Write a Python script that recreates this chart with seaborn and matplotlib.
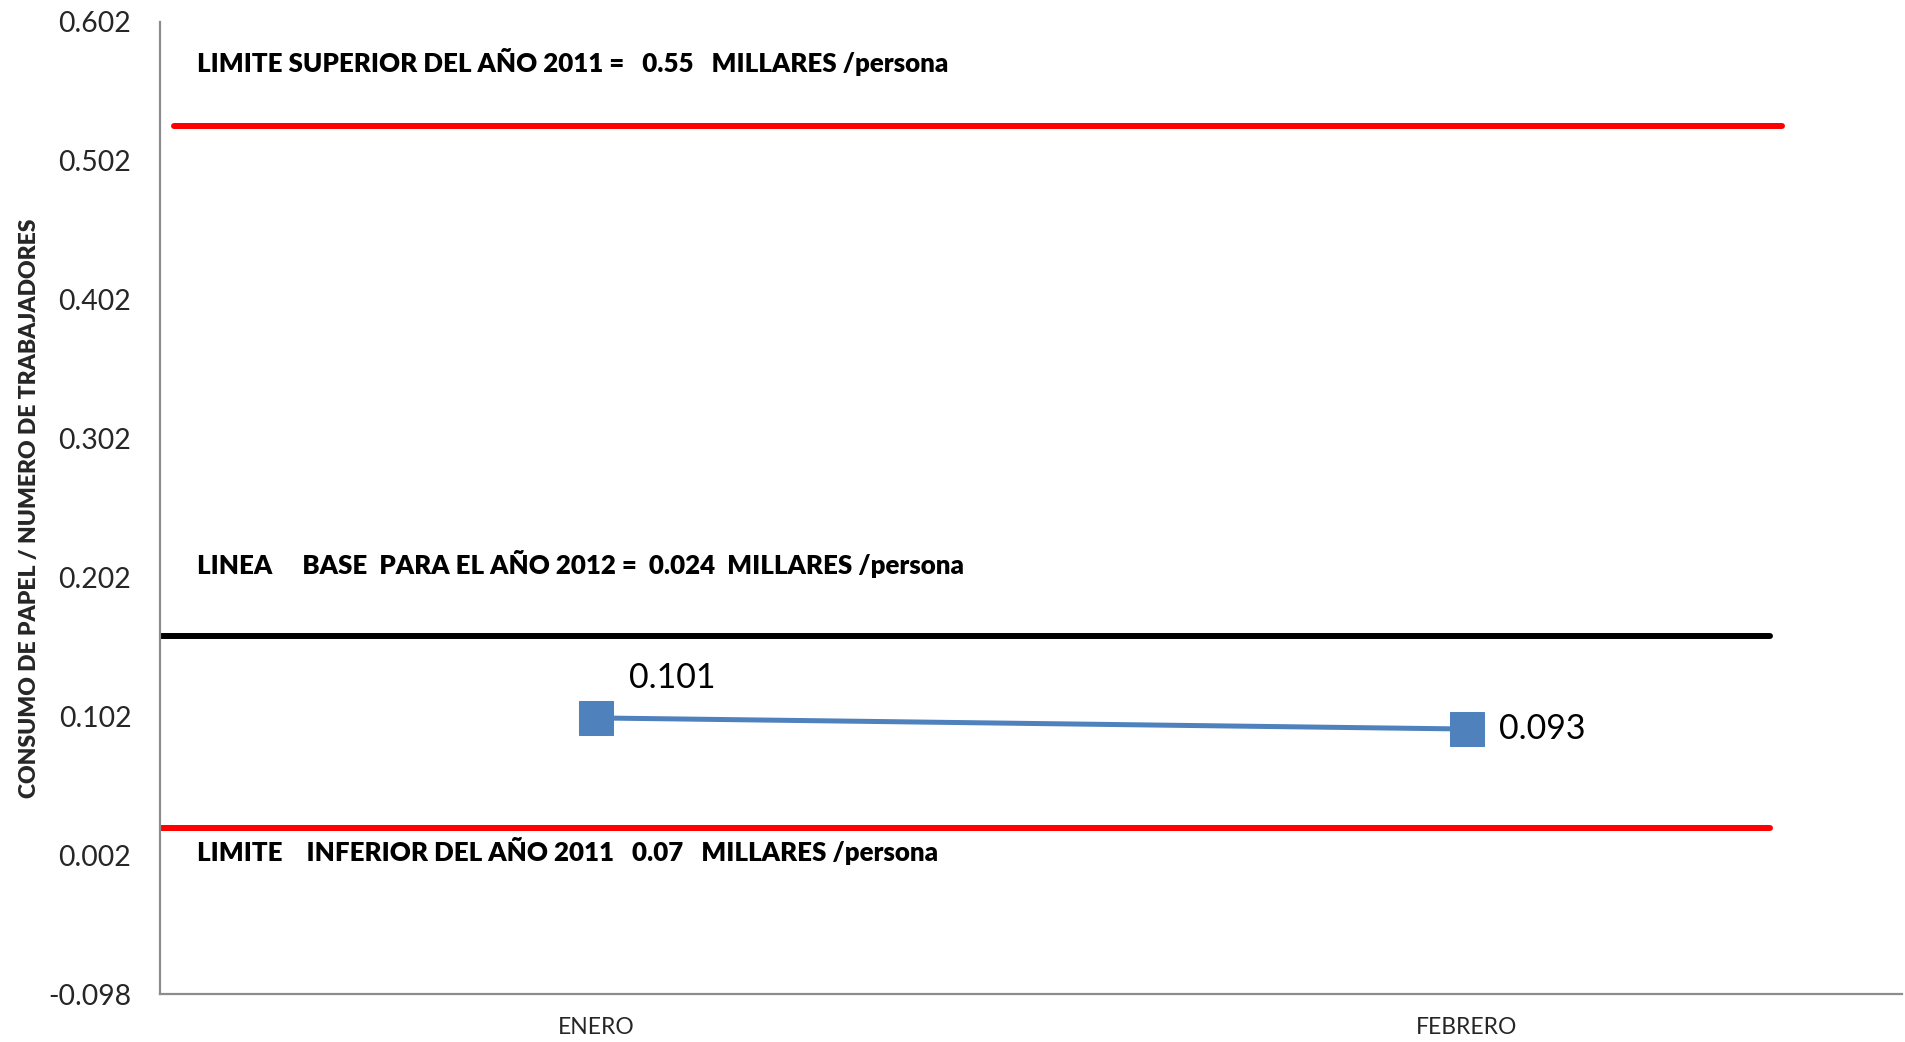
import matplotlib
matplotlib.use("Agg")
import matplotlib.pyplot as plt
import seaborn as sns
import pandas as pd

# ---- data ----
months = ["ENERO", "FEBRERO"]
consumo = [0.101, 0.093]
point_labels = ["0.101", "0.093"]
ytick_values = [-0.098, 0.002, 0.102, 0.202, 0.302, 0.402, 0.502, 0.602]
ytick_labels = ["-0.098", "0.002", "0.102", "0.202", "0.302", "0.402", "0.502", "0.602"]
ref_levels = [0.527, 0.160, 0.022]
ref_colors = ["#FF0000", "#000000", "#FF0000"]
ref_texts = [
    "LIMITE SUPERIOR DEL AÑO 2011 =   0.55   MILLARES /persona",
    "LINEA     BASE  PARA EL AÑO 2012 =  0.024  MILLARES /persona",
    "LIMITE    INFERIOR DEL AÑO 2011   0.07   MILLARES /persona",
]
ref_text_y = [0.573, 0.212, 0.005]
ylabel = "CONSUMO DE PAPEL / NUMERO DE TRABAJADORES"

sns.set_theme(style="white")
plt.rcParams["font.family"] = ["Lato", "DejaVu Sans"]

df = pd.DataFrame({"mes": months, "valor": consumo})

fig = plt.figure(figsize=(19.06, 10.42), dpi=100)
ax = fig.add_axes([0.0842, 0.0457, 0.9138, 0.9333])

# reference lines
ref_span = [(0.008, 0.931), (0.0, 0.924), (0.0, 0.924)]
for lvl, col, (a, b) in zip(ref_levels, ref_colors, ref_span):
    ax.axhline(lvl, xmin=a, xmax=b, color=col, lw=4.3, zorder=2)

sns.lineplot(data=df, x="mes", y="valor", ax=ax, color="#4F81BD", lw=3.6,
             marker="s", markersize=24, markeredgecolor="#4F81BD", sort=False, zorder=3)

# data labels
ax.annotate(point_labels[0], (0, consumo[0]), xytext=(33, 40), textcoords="offset pixels",
            fontsize=24.5, ha="left", va="center", color="#000000")
ax.annotate(point_labels[1], (1, consumo[1]), xytext=(32, 0), textcoords="offset pixels",
            fontsize=24.5, ha="left", va="center", color="#000000")

for t, yy in zip(ref_texts, ref_text_y):
    ax.text(-0.4575, yy, t, fontsize=18.6, fontweight="heavy", ha="left", va="center",
            color="#000000")

ax.set_xlim(-0.5, 1.5)
ax.set_ylim(-0.098, 0.602)
ax.set_yticks(ytick_values)
ax.set_yticklabels(ytick_labels, fontsize=20.4)
ax.tick_params(axis="x", labelsize=16.5, pad=16, length=0)
ax.tick_params(axis="y", length=0, pad=21)
ax.set_xlabel("")
ax.set_ylabel(ylabel, fontsize=16.5, fontweight="heavy", labelpad=6)

for s in ["top", "right"]:
    ax.spines[s].set_visible(False)
for s in ["left", "bottom"]:
    ax.spines[s].set_color("#8C8C8C")
    ax.spines[s].set_linewidth(1.6)

fig.savefig("out.png", dpi=100, facecolor="white")
